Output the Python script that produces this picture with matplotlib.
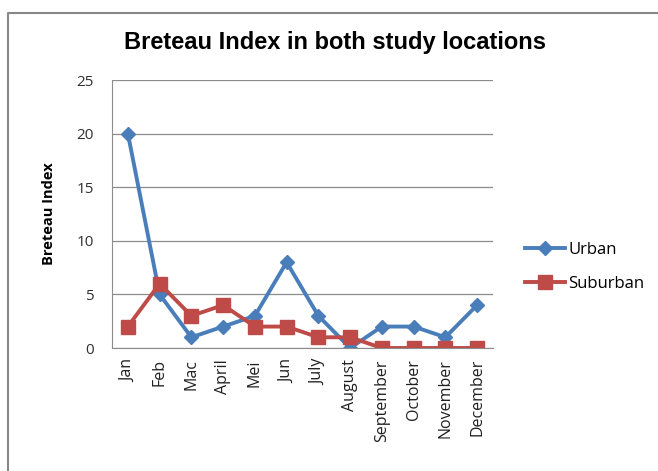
import matplotlib.pyplot as plt
from matplotlib.lines import Line2D

months = ["Jan", "Feb", "Mac", "April", "Mei", "Jun", "July", "August",
          "September", "October", "November", "December"]
urban = [20, 5, 1, 2, 3, 8, 3, 0, 2, 2, 1, 4]
suburban = [2, 6, 3, 4, 2, 2, 1, 1, 0, 0, 0, 0]

blue = '#4a7ebb'
red = '#be4b48'

fig = plt.figure(figsize=(6.58, 4.71), dpi=100)
W, H = 658, 471

# chart frame: only top and left edges are visible in the crop
fig.add_artist(Line2D([8 / W, 8 / W, 1.0], [0, 1 - 13 / H, 1 - 13 / H],
                      transform=fig.transFigure, color='#888888', linewidth=1.5))

ax = fig.add_axes([112 / W, 1 - 348 / H, (493 - 112) / W, (348 - 80) / H])
x = list(range(len(months)))
ax.plot(x, urban, color=blue, linewidth=2.8, marker='D', markersize=7, label='Urban')
ax.plot(x, suburban, color=red, linewidth=2.8, marker='s', markersize=10, label='Suburban')

ax.set_xlim(-0.5, len(months) - 0.5)
ax.set_ylim(0, 25)
ax.set_yticks([0, 5, 10, 15, 20, 25])
ax.set_xticks(x)
ax.set_xticklabels(months, rotation=90, family='Open Sans', fontsize=11.5, color='#202020')
for lab in ax.get_yticklabels():
    lab.set_family('Open Sans')
    lab.set_fontsize(11)
    lab.set_color('#303030')
ax.tick_params(axis='y', length=0, pad=13)
ax.tick_params(axis='x', length=0, pad=8)
ax.grid(axis='y', color='#8c8c8c', linewidth=0.9)
ax.set_axisbelow(True)
for s in ['top', 'right']:
    ax.spines[s].set_visible(False)
ax.spines['left'].set_color('#8c8c8c')
ax.spines['bottom'].set_color('#8c8c8c')

ax.set_ylabel('Breteau Index', family='Open Sans', fontsize=10.5, fontweight='bold', labelpad=15)
fig.text(335 / W, 1 - 42 / H, 'Breteau Index in both study locations', ha='center', va='center',
         family='Liberation Sans', fontsize=17, fontweight='bold')

handles = [Line2D([], [], color=blue, linewidth=2.8, marker='D', markersize=7),
           Line2D([], [], color=red, linewidth=2.8, marker='s', markersize=10)]
fig.legend(handles, ['Urban', 'Suburban'], loc='center left', bbox_to_anchor=(510 / W, 1 - 267 / H),
           frameon=False, prop={'family': 'Open Sans', 'size': 12}, labelspacing=1.1,
           handlelength=2.4, handletextpad=0.2)

fig.savefig('out.png', dpi=100)
